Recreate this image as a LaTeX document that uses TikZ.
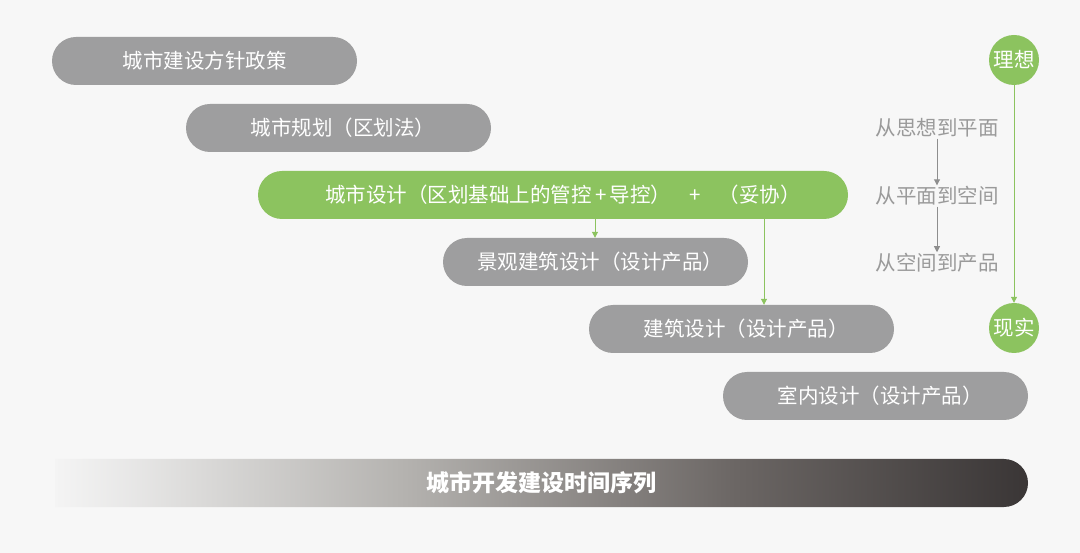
\documentclass[tikz,border=0pt]{standalone}
\usepackage{fontspec}
\setmainfont{Noto Sans CJK SC}
\usetikzlibrary{shapes.misc,arrows.meta}
\definecolor{bg}{HTML}{F7F7F7}
\definecolor{pillgray}{HTML}{9E9E9F}
\definecolor{pillgreen}{HTML}{8CC35F}
\definecolor{txtgray}{HTML}{9A9A9A}
\definecolor{arrgray}{HTML}{8E8E8E}
\definecolor{barA}{HTML}{F4F4F4}
\definecolor{barB}{HTML}{B4B2AF}
\definecolor{barC}{HTML}{6B6664}
\definecolor{barD}{HTML}{3A3636}
\pgfdeclarehorizontalshading{barshade}{100bp}{color(0bp)=(barA); color(25bp)=(barA); color(29bp)=(barA!80!barB); color(43bp)=(barB); color(60bp)=(barC); color(75bp)=(barD); color(100bp)=(barD)}
\newcommand{\padl}{\hspace{9pt}}
\begin{document}
\begin{tikzpicture}[x=1pt,y=-1pt,
  pill/.style={rounded rectangle, minimum width=305pt, minimum height=48pt, inner sep=0pt, text=white, font=\fontsize{20.5}{22}\selectfont},
  graypill/.style={pill, fill=pillgray},
  greenpill/.style={pill, fill=pillgreen},
  circ/.style={circle, fill=pillgreen, minimum size=50pt, inner sep=0pt, text=white, font=\fontsize{20.5}{22}\selectfont},
  side/.style={text=txtgray, font=\fontsize{20.5}{22}\selectfont, inner sep=1pt},
  garrow/.style={draw=pillgreen, line width=1pt, -{Triangle[width=6pt,length=6pt]}},
  grarrow/.style={draw=arrgray, line width=0.9pt, -{Triangle[width=6pt,length=6pt]}}]
\useasboundingbox (0,0) rectangle (1080,553);
\fill[bg] (0,0) rectangle (1080,553);

\node[graypill] (p1) at (204.5,61) {城市建设方针政策};
\node[graypill] (p2) at (338.5,128) {\padl 城市规划（区划法）};
\node[greenpill, minimum width=590pt] (p3) at (553,195) {};
\node[text=white, font=\fontsize{20.5}{22}\selectfont, inner sep=0pt] (p3t) at (563,195) {城市设计（区划基础上的管控\,+\,导控）\hspace{18pt}+\hspace{18pt}（妥协）};
\node[graypill] (p4) at (595.5,262) {\padl 景观建筑设计（设计产品）};
\node[graypill] (p5) at (741.5,329) {\padl 建筑设计（设计产品）};
\node[graypill] (p6) at (875.5,396) {\padl 室内设计（设计产品）};

\coordinate (a1s) at (595,219);
\coordinate (a2s) at (764,219);
\draw[garrow] (a1s) -- (a1s |- p4.north);
\draw[garrow] (a2s) -- (a2s |- p5.north);

\node[circ] (c1) at (1014,60) {理想};
\node[circ] (c2) at (1014,328) {现实};
\draw[garrow] (c1.south) -- (c2.north);

\node[side] (s1) at (937,128) {从思想到平面};
\node[side] (s2) at (937,196) {从平面到空间};
\node[side] (s3) at (937,263) {从空间到产品};
\draw[grarrow] (s1.south) -- (s2.north);
\draw[grarrow] (s2.south) -- (s3.north);

\shade[shading=barshade] (55,459) [rounded corners=24pt] -- (1028,459) -- (1028,507) [sharp corners] -- (55,507) -- cycle;
\node[text=white, font=\fontsize{23}{25}\selectfont\bfseries] (bar) at (541,483) {城市开发建设时间序列};
\end{tikzpicture}
\end{document}
